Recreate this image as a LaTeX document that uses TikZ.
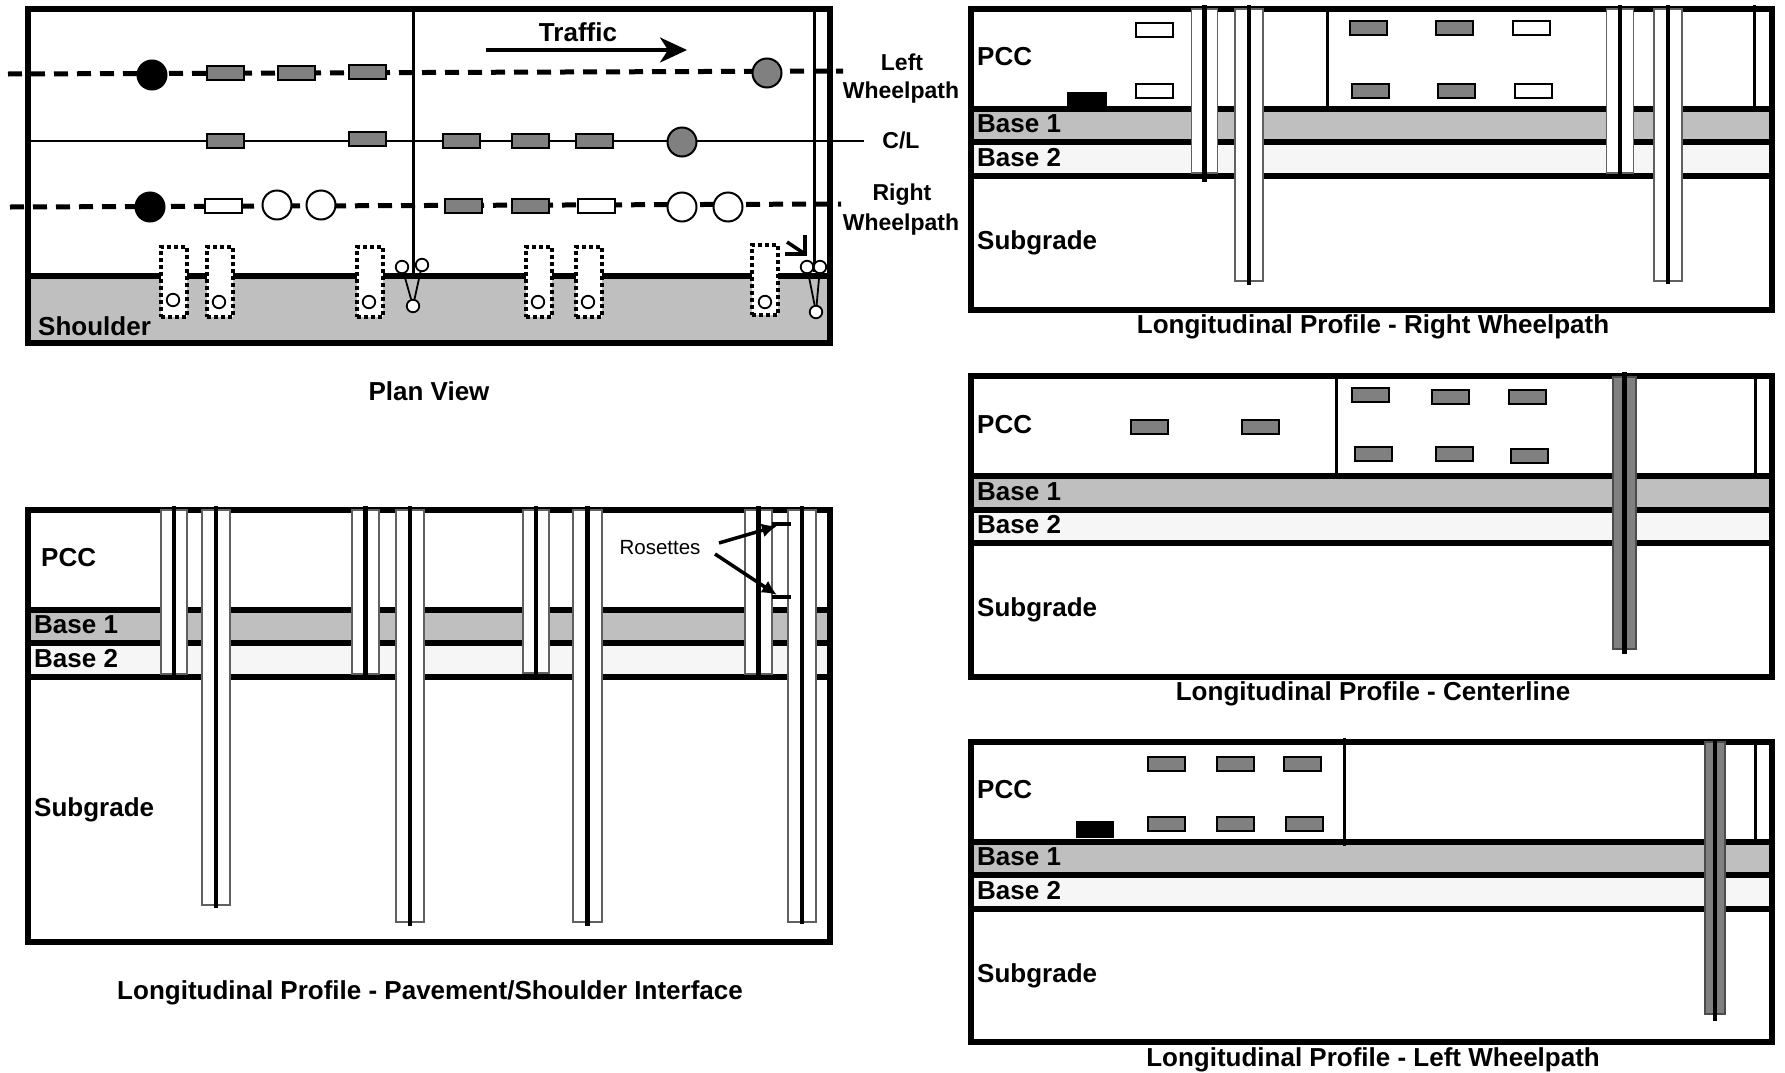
\documentclass[tikz,border=0pt]{standalone}
\usepackage{fontspec}
\setmainfont{Liberation Sans}
\usetikzlibrary{arrows.meta}
\begin{document}
\begin{tikzpicture}[x=1pt,y=-1pt]
    \tikzset{
    frame line/.style={line width=6pt},
    layer line/.style={line width=6pt},
    joint line/.style={line width=3pt},
    gauge/.style={rectangle,draw,line width=2pt,minimum width=37pt,minimum height=14pt,inner sep=0},
    gauge gray/.style={gauge,fill=gaugegray},
    gauge white/.style={gauge,fill=white},
    gauge black/.style={gauge,fill=black,minimum width=38pt},
    dot big/.style={circle,draw,line width=2pt,minimum size=29pt,inner sep=0},
    dot small/.style={circle,draw,fill=white,line width=1.8pt,minimum size=12.5pt,inner sep=0},
    dot box/.style={rectangle,draw,fill=white,line width=4pt,dash pattern=on 4pt off 3pt,minimum width=26pt,minimum height=70pt,inner sep=0},
    pile/.style 2 args={rectangle,draw=pilegray,fill=white,line width=1.5pt,minimum width=#1pt,minimum height=#2pt,inner sep=0},
    pile dark/.style 2 args={rectangle,draw=black!70,fill=gaugegray,line width=1.5pt,minimum width=#1pt,minimum height=#2pt,inner sep=0},
    pile line/.style={line width=4.5pt},
    wheel line/.style={line width=5pt,dash pattern=on 14pt off 9pt},
    label bold/.style={font=\bfseries\fontsize{26}{26}\selectfont,inner sep=0},
    label side/.style={font=\bfseries\fontsize{23}{23}\selectfont,inner sep=0},
    label left/.style={label bold,anchor=west}
    }
    \definecolor{gaugegray}{HTML}{808080}
    \definecolor{basegray}{HTML}{BFBFBF}
    \definecolor{basedots}{HTML}{F6F6F6}
    \definecolor{pilegray}{HTML}{606060}

    % plan view
    \fill[basegray] (28,276) rectangle (829.5,343);
    \draw[frame line] (28,9) rectangle (829.5,343);
    \draw[layer line] (28,276) -- (829.5,276);

    \coordinate (left start) at (8,74);
    \coordinate (left end) at (843,71);
    \coordinate (center start) at (31,141);
    \coordinate (center end) at (864,141);
    \coordinate (right start) at (10,207);
    \coordinate (right end) at (841,204);
    \draw[wheel line] (left start) -- (left end);
    \draw[line width=2.5pt] (center start) -- (center end);
    \draw[wheel line] (right start) -- (right end);

    \coordinate (cut1 top) at (413,12);
    \coordinate (cut1 end) at (413,276);
    \coordinate (cut2 top) at (814,12);
    \coordinate (cut2 end) at (814,272);
    \draw[joint line] (cut1 top) -- (cut1 end);
    \draw[joint line] (cut2 top) -- (cut2 end);

    \node[dot big,fill=black] (lw1) at (152,75) {};
    \node[gauge gray] (lw2) at (225.5,72.5) {};
    \node[gauge gray] (lw3) at (296,72.5) {};
    \node[gauge gray] (lw4) at (367,72) {};
    \node[dot big,fill=gaugegray] (lw5) at (767,73) {};

    \node[gauge gray] (cl1) at (225.5,141) {};
    \node[gauge gray] (cl2) at (367,139) {};
    \node[gauge gray] (cl3) at (461,141) {};
    \node[gauge gray] (cl4) at (530,141) {};
    \node[gauge gray] (cl5) at (594,141) {};
    \node[dot big,fill=gaugegray] (cl6) at (682,142) {};

    \node[dot big,fill=black] (rw1) at (150,207) {};
    \node[gauge white] (rw2) at (223,206) {};
    \node[dot big,fill=white] (rw3) at (277,205) {};
    \node[dot big,fill=white] (rw4) at (321,205) {};
    \node[gauge gray] (rw5) at (463,206) {};
    \node[gauge gray] (rw6) at (530,206) {};
    \node[gauge white] (rw7) at (596,206) {};
    \node[dot big,fill=white] (rw8) at (682,207) {};
    \node[dot big,fill=white] (rw9) at (728,207) {};

    \node[dot box] (box1) at (174,282) {};
    \node[dot box] (box2) at (220,282) {};
    \node[dot box] (box3) at (370,282) {};
    \node[dot box] (box4) at (539,282) {};
    \node[dot box] (box5) at (589,282) {};
    \node[dot box] (box6) at (765,280) {};
    \node[dot small] (hole1) at (173,300) {};
    \node[dot small] (hole2) at (219,302) {};
    \node[dot small] (hole3) at (369,302) {};
    \node[dot small] (hole4) at (538,302) {};
    \node[dot small] (hole5) at (588,302) {};
    \node[dot small] (hole6) at (765,302) {};

    \node[dot small] (ringa) at (402,267) {};
    \node[dot small] (ringb) at (422,265) {};
    \node[dot small] (ringc) at (413,306) {};
    \node[dot small] (ringd) at (807,267) {};
    \node[dot small] (ringe) at (820,267) {};
    \node[dot small] (ringf) at (816,312) {};
    \path[-,draw,line width=1.8pt]
    (ringa) edge (ringc)
    (ringb) edge (ringc)
    (ringd) edge (ringf)
    (ringe) edge (ringf);

    \coordinate (bent tip) at (805,254);
    \coordinate (bent a) at (785,254);
    \coordinate (bent b) at (805,235);
    \coordinate (bent tail) at (787,242);
    \draw[line width=3.5pt,line join=miter] (bent a) -- (bent tip) -- (bent b);
    \draw[line width=3.5pt] (bent tail) -- (bent tip);

    \coordinate (traffic start) at (486,50);
    \coordinate (traffic end) at (687,50);
    \draw[-{Stealth[length=27pt,width=25pt,inset=8pt]},line width=3.5pt] (traffic start) -- (traffic end);
    \node[label bold] (traffic) at (578,32) {Traffic};
    \node[label side] (lw a) at (902,62) {Left};
    \node[label side] (lw b) at (901,93) {Wheelpath};
    \node[label side] (cl) at (901,140) {C/L};
    \node[label side] (rw a) at (902,195) {Right};
    \node[label side] (rw b) at (901,225) {Wheelpath};
    \node[label left] (shoulder) at (38,326.5) {Shoulder};
    \node[label bold] (plan) at (429,391) {Plan View};

    % pavement/shoulder interface
    \fill[basegray] (28,610) rectangle (829.5,643);
    \fill[basedots] (28,643) rectangle (829.5,677);
    \draw[frame line] (28,510) rectangle (829.5,941.5);
    \draw[layer line] (28,610) -- (829.5,610);
    \draw[layer line] (28,643) -- (829.5,643);
    \draw[layer line] (28,677) -- (829.5,677);

    \node[pile={26}{164},anchor=north] (ps1) at (174,509) {};
    \node[pile={28}{395},anchor=north] (pl1) at (216,509) {};
    \node[pile={27}{164},anchor=north] (ps2) at (365.5,509) {};
    \node[pile={28}{412},anchor=north] (pl2) at (410,509) {};
    \node[pile={26}{163},anchor=north] (ps3) at (536,509) {};
    \node[pile={29}{412},anchor=north] (pl3) at (587.5,509) {};
    \node[pile={27}{164},anchor=north] (ps4) at (758.5,509) {};
    \node[pile={28}{412},anchor=north] (pl4) at (802,509) {};
    \draw[pile line] ([yshift=3pt]ps1.north) -- (ps1.south);
    \draw[pile line] ([yshift=3pt]pl1.north) -- ([yshift=-2pt]pl1.south);
    \draw[pile line] ([yshift=3pt]ps2.north) -- (ps2.south);
    \draw[pile line] ([yshift=3pt]pl2.north) -- ([yshift=-3pt]pl2.south);
    \draw[pile line] ([yshift=3pt]ps3.north) -- (ps3.south);
    \draw[pile line] ([yshift=3pt]pl3.north) -- ([yshift=-3pt]pl3.south);
    \draw[pile line] ([yshift=3pt]ps4.north) -- (ps4.south);
    \draw[pile line] ([yshift=3pt]pl4.north) -- ([yshift=-1pt]pl4.south);

    \node[label left] (pcc0) at (41,558) {PCC};
    \node[label left] (base10) at (34,625) {Base 1};
    \node[label left] (base20) at (34,659) {Base 2};
    \node[label left] (sub0) at (34,810) {Subgrade};
    \node[inner sep=0,font=\fontsize{20.5}{20.5}\selectfont] (rosettes) at (660,548) {Rosettes};

    \coordinate (ros a start) at (719,543);
    \coordinate (ros a end) at (777,526);
    \coordinate (ros b start) at (715,554);
    \coordinate (ros b end) at (777,595);
    \coordinate (ros a l) at (772,524);
    \coordinate (ros a r) at (791,524);
    \coordinate (ros b l) at (772,597);
    \coordinate (ros b r) at (791,597);
    \draw[line width=3.5pt] (ros a l) -- (ros a r);
    \draw[line width=3.5pt] (ros b l) -- (ros b r);
    \draw[-{Latex[length=15pt,width=14pt]},line width=3.5pt] (ros a start) -- (ros a end);
    \draw[-{Latex[length=15pt,width=14pt]},line width=3.5pt] (ros b start) -- (ros b end);
    \node[label bold] (cap0) at (430,993) {Longitudinal Profile - Pavement/Shoulder Interface};

    % right wheelpath
    \fill[basegray] (971,109) rectangle (1772,142);
    \fill[basedots] (971,142) rectangle (1772,175.5);
    \draw[frame line] (971,9) rectangle (1772,309.5);
    \draw[layer line] (971,109) -- (1772,109);
    \draw[layer line] (971,142) -- (1772,142);
    \draw[layer line] (971,175.5) -- (1772,175.5);

    \coordinate (jra top) at (1327,12);
    \coordinate (jra end) at (1327,109);
    \coordinate (jrb top) at (1754,5);
    \coordinate (jrb end) at (1754,109);
    \draw[joint line] (jra top) -- (jra end);
    \draw[joint line] (jrb top) -- (jrb end);

    \node[gauge white] (r1) at (1154.5,30) {};
    \node[gauge white] (r2) at (1154.5,91) {};
    \node[gauge gray] (r3) at (1368,28) {};
    \node[gauge gray] (r4) at (1454.3,28) {};
    \node[gauge white] (r5) at (1531.5,28) {};
    \node[gauge gray] (r6) at (1370,91) {};
    \node[gauge gray] (r7) at (1456.3,91) {};
    \node[gauge white] (r8) at (1533.5,91) {};
    \node[gauge black,minimum height=13pt] (r9) at (1087,99) {};

    \node[pile={26}{164},anchor=north] (rp1) at (1204.6,8) {};
    \node[pile={28}{272},anchor=north] (rp2) at (1248.8,8) {};
    \node[pile={27}{164},anchor=north] (rp3) at (1620,8) {};
    \node[pile={28}{272},anchor=north] (rp4) at (1667.8,8) {};
    \draw[pile line] ([yshift=3pt]rp1.north) -- ([yshift=-8pt]rp1.south);
    \draw[pile line] ([yshift=3pt]rp2.north) -- ([yshift=-3pt]rp2.south);
    \draw[pile line] ([yshift=3pt]rp3.north) -- (rp3.south);
    \draw[pile line] ([yshift=3pt]rp4.north) -- ([yshift=-2pt]rp4.south);

    \node[label left] (pcc1) at (977,57) {PCC};
    \node[label left] (base11) at (977,124) {Base 1};
    \node[label left] (base21) at (977,158) {Base 2};
    \node[label left] (sub1) at (977,243) {Subgrade};
    \node[label bold] (cap1) at (1373,327) {Longitudinal Profile - Right Wheelpath};

    % centerline
    \fill[basegray] (971,476) rectangle (1772,510);
    \fill[basedots] (971,510) rectangle (1772,543);
    \draw[frame line] (971,376) rectangle (1772,677);
    \draw[layer line] (971,476) -- (1772,476);
    \draw[layer line] (971,510) -- (1772,510);
    \draw[layer line] (971,543) -- (1772,543);

    \coordinate (jca top) at (1336,376);
    \coordinate (jca end) at (1336,476);
    \coordinate (jcb top) at (1755,376);
    \coordinate (jcb end) at (1755,476);
    \draw[joint line] (jca top) -- (jca end);
    \draw[joint line] (jcb top) -- (jcb end);

    \node[gauge gray] (c1) at (1149.5,427) {};
    \node[gauge gray] (c2) at (1260,427) {};
    \node[gauge gray] (c3) at (1370.5,395) {};
    \node[gauge gray] (c4) at (1450.3,397) {};
    \node[gauge gray] (c5) at (1527.5,397) {};
    \node[gauge gray] (c6) at (1373,454) {};
    \node[gauge gray] (c7) at (1454.3,454) {};
    \node[gauge gray] (c8) at (1529,456) {};

    \node[pile dark={23}{272},anchor=north] (cp1) at (1624.7,376) {};
    \draw[pile line] ([yshift=4pt]cp1.north) -- ([yshift=-4pt]cp1.south);

    \node[label left] (pcc2) at (977,425) {PCC};
    \node[label left] (base12) at (977,492) {Base 1};
    \node[label left] (base22) at (977,525) {Base 2};
    \node[label left] (sub2) at (977,610) {Subgrade};
    \node[label bold] (cap2) at (1373,694) {Longitudinal Profile - Centerline};

    % left wheelpath
    \fill[basegray] (971,841.5) rectangle (1772,875);
    \fill[basedots] (971,875) rectangle (1772,909);
    \draw[frame line] (971,742) rectangle (1772,1042);
    \draw[layer line] (971,841.5) -- (1772,841.5);
    \draw[layer line] (971,875) -- (1772,875);
    \draw[layer line] (971,909) -- (1772,909);

    \coordinate (jla top) at (1344,738);
    \coordinate (jla end) at (1344,846);
    \coordinate (jlb top) at (1755,742);
    \coordinate (jlb end) at (1755,841);
    \draw[joint line] (jla top) -- (jla end);
    \draw[joint line] (jlb top) -- (jlb end);

    \node[gauge black,minimum height=17pt,draw=none] (l1) at (1095.4,829.5) {};
    \node[gauge gray] (l2) at (1166.5,764) {};
    \node[gauge gray] (l3) at (1235.2,764) {};
    \node[gauge gray] (l4) at (1302,764) {};
    \node[gauge gray] (l5) at (1166.5,824) {};
    \node[gauge gray] (l6) at (1235.2,824) {};
    \node[gauge gray] (l7) at (1304,824) {};

    \node[pile dark={20}{272},anchor=north] (lp1) at (1715,741) {};
    \draw[pile line] (lp1.north) -- ([yshift=-6pt]lp1.south);

    \node[label left] (pcc3) at (977,790) {PCC};
    \node[label left] (base13) at (977,857) {Base 1};
    \node[label left] (base23) at (977,891) {Base 2};
    \node[label left] (sub3) at (977,976) {Subgrade};
    \node[label bold] (cap3) at (1373,1060) {Longitudinal Profile - Left Wheelpath};

    \useasboundingbox (0,0) rectangle (1785,1072);
\end{tikzpicture}
\end{document}
